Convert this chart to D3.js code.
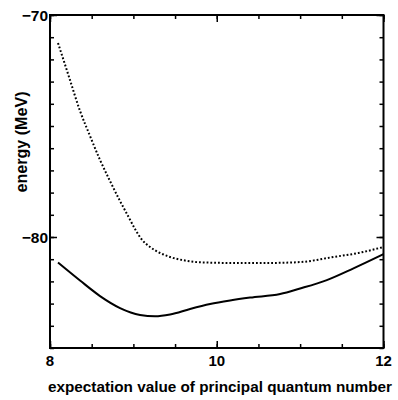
<!DOCTYPE html>
<html>
<head>
<meta charset="utf-8">
<script src="https://cdn.jsdelivr.net/npm/d3@7"></script>
<style>
  body { margin: 0; background: #fff; }
  text { font-family: "Liberation Sans", Arial, sans-serif; font-weight: bold; fill: #000; }
</style>
</head>
<body>
<svg id="canvas" width="398" height="400"></svg>
<script>
// expectation value of n (x) and energy in MeV (y)
let dottedX = [8.096, 8.228, 8.36, 8.48, 8.6, 8.72, 8.84, 8.936, 9.02, 9.1, 9.2, 9.32, 9.44, 9.62, 9.8, 10.2, 10.6, 11.0, 11.4, 11.7, 12.0]
let dottedY = [-71.26, -72.79, -74.32, -75.45, -76.53, -77.48, -78.38, -79.05, -79.64, -80.11, -80.45, -80.72, -80.9, -81.06, -81.14, -81.17, -81.17, -81.13, -80.9, -80.72, -80.45]

let solidX = [8.096, 8.36, 8.6, 8.84, 9.08, 9.26, 9.44, 9.68, 9.92, 10.16, 10.4, 10.76, 11.0, 11.32, 11.64, 12.0]
let solidY = [-81.15, -81.96, -82.66, -83.2, -83.51, -83.57, -83.49, -83.24, -83.02, -82.86, -82.73, -82.57, -82.32, -81.94, -81.41, -80.77]

let xTicks = [8, 10, 12]
let yTicks = [-80, -70]

let svg = d3.select('#canvas')

let mLeft = 50, mRight = 383.5, mTop = 15, mBottom = 348

let xScale = d3.scaleLinear().domain([8, 12]).range([mLeft, mRight])
let yScale = d3.scaleLinear().domain([-85, -70]).range([mBottom, mTop])

let fmt = (d) => d < 0 ? '\u2212' + Math.abs(d) : d

// axes, ticks pointing inward on all four sides
let xMinor = d3.range(8, 12.01, 0.5)
let yMinor = d3.range(-85, -69, 1)

svg.append('g')
    .attr('transform', 'translate(0,' + mBottom + ')')
    .call(d3.axisTop(xScale).tickValues(xMinor).tickSize(4).tickFormat(''))
svg.append('g')
    .attr('transform', 'translate(0,' + mBottom + ')')
    .call(d3.axisTop(xScale).tickValues(xTicks).tickSize(7).tickFormat(''))
svg.append('g')
    .attr('transform', 'translate(0,' + mTop + ')')
    .call(d3.axisBottom(xScale).tickValues(xMinor).tickSize(4).tickFormat(''))
svg.append('g')
    .attr('transform', 'translate(0,' + mTop + ')')
    .call(d3.axisBottom(xScale).tickValues(xTicks).tickSize(7).tickFormat(''))

svg.append('g')
    .attr('transform', 'translate(' + mLeft + ',0)')
    .call(d3.axisRight(yScale).tickValues(yMinor).tickSize(4).tickFormat(''))
svg.append('g')
    .attr('transform', 'translate(' + mLeft + ',0)')
    .call(d3.axisRight(yScale).tickValues(yTicks).tickSize(7).tickFormat(''))
svg.append('g')
    .attr('transform', 'translate(' + mRight + ',0)')
    .call(d3.axisLeft(yScale).tickValues(yMinor).tickSize(4).tickFormat(''))
svg.append('g')
    .attr('transform', 'translate(' + mRight + ',0)')
    .call(d3.axisLeft(yScale).tickValues(yTicks).tickSize(7).tickFormat(''))

svg.selectAll('.domain').remove()
svg.selectAll('.tick line').attr('stroke', '#000').attr('stroke-width', 1.5)

svg.append('rect')
    .attr('x', mLeft).attr('y', mTop)
    .attr('width', mRight - mLeft).attr('height', mBottom - mTop)
    .attr('fill', 'none').attr('stroke', '#000').attr('stroke-width', 2)

// tick labels
svg.selectAll('.xlab')
    .data(xTicks)
    .enter()
    .append('text')
    .attr('x', (d) => xScale(d))
    .attr('y', mBottom + 18)
    .attr('text-anchor', 'middle')
    .style('font-size', '15px')
    .text((d) => d)

svg.selectAll('.ylab')
    .data(yTicks)
    .enter()
    .append('text')
    .attr('x', mLeft - 2)
    .attr('y', (d) => yScale(d) + 5.5)
    .attr('text-anchor', 'end')
    .style('font-size', '15.5px')
    .text((d) => fmt(d))

// axis titles
svg.append('text')
    .attr('x', 220)
    .attr('y', 392)
    .attr('text-anchor', 'middle')
    .style('font-size', '15.5px')
    .attr('textLength', 344)
    .attr('lengthAdjust', 'spacingAndGlyphs')
    .text('expectation value of principal quantum number')

svg.append('text')
    .attr('transform', 'translate(27,142) rotate(-90)')
    .attr('text-anchor', 'middle')
    .style('font-size', '16px')
    .attr('textLength', 101)
    .attr('lengthAdjust', 'spacingAndGlyphs')
    .text('energy (MeV)')

// curves
let line = d3.line()
    .x((d) => xScale(d[0]))
    .y((d) => yScale(d[1]))
    .curve(d3.curveMonotoneX)

svg.append('path')
    .datum(dottedX.map((x, i) => [x, dottedY[i]]))
    .attr('d', line)
    .attr('fill', 'none')
    .attr('stroke', '#000')
    .attr('stroke-width', 2)
    .attr('stroke-dasharray', '1.8,2')

svg.append('path')
    .datum(solidX.map((x, i) => [x, solidY[i]]))
    .attr('d', line)
    .attr('fill', 'none')
    .attr('stroke', '#000')
    .attr('stroke-width', 2)
</script>
</body>
</html>
